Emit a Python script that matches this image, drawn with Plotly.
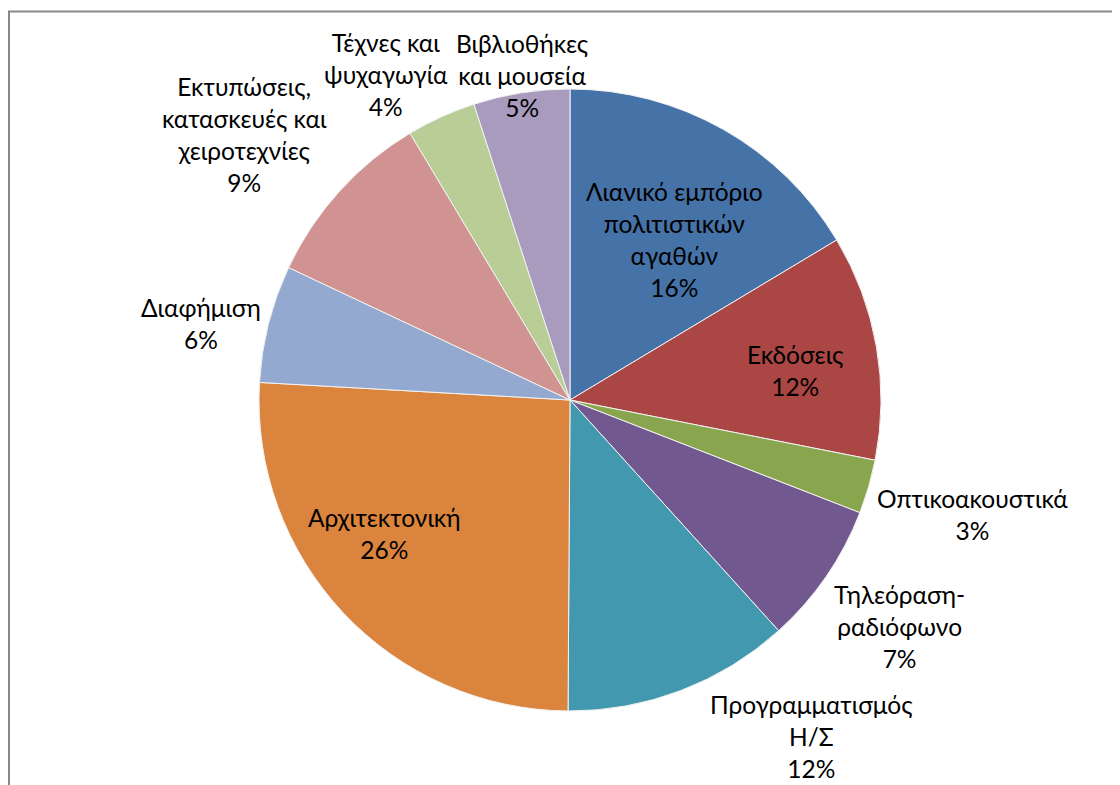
import math
import plotly.graph_objects as go

labels = [
    "Λιανικό εμπόριο<br>πολιτιστικών<br>αγαθών",
    "Εκδόσεις",
    "Οπτικοακουστικά",
    "Τηλεόραση-<br>ραδιόφωνο",
    "Προγραμματισμός<br>Η/Σ",
    "Αρχιτεκτονική",
    "Διαφήμιση",
    "Εκτυπώσεις,<br>κατασκευές και<br>χειροτεχνίες",
    "Τέχνες και<br>ψυχαγωγία",
    "Βιβλιοθήκες<br>και μουσεία",
]
values = [16.4, 11.7, 2.8, 7.4, 11.8, 25.8, 6.1, 9.4, 3.6, 5.0]
colors = ["#4572A7", "#AA4643", "#89A54E", "#71588F", "#4198AF",
          "#DB843D", "#93A9CF", "#D19392", "#B9CD96", "#A99BBD"]

# label placement style: radius factor along slice mid-angle + pixel nudges
label_r = [0.617, 0.729, 1.348, 1.285, 1.290, 0.731, 1.210, 1.351, 1.198, 1.056]
label_dx = [10, 2, 0, 0, 99, -20, -4, -14, -30, 3]
label_dy = [6, 9, -2, 0, -38, -22, 16, 16, 14, 0]

W, H = 1120, 785
CX, CY, R = 562, 392, 311

fig = go.Figure(go.Pie(
    labels=labels,
    values=values,
    sort=False,
    direction="clockwise",
    rotation=0,
    marker=dict(colors=colors, line=dict(color="#F2F2F2", width=1)),
    textinfo="none",
    showlegend=False,
    automargin=False,
    domain=dict(x=[(CX - R) / W, (CX + R) / W], y=[1 - (CY + R) / H, 1 - (CY - R) / H]),
    hoverinfo="label+percent",
))

total = sum(values)
annotations = []
cum = 0.0
for i, (lab, v) in enumerate(zip(labels, values)):
    mid = (cum + v / 2) / total * 2 * math.pi
    cum += v
    px = CX + label_r[i] * R * math.sin(mid) + label_dx[i]
    py = CY - label_r[i] * R * math.cos(mid) + label_dy[i]
    pct = round(v / total * 100)
    annotations.append(dict(
        x=px / W, y=1 - py / H, xref="paper", yref="paper",
        xanchor="center", yanchor="middle", showarrow=False,
        text=f"{lab}<br>{pct}%", align="center",
        font=dict(family="Lato", size=24.5, color="#000000"),
    ))

fig.update_layout(
    width=W, height=H,
    margin=dict(l=0, r=0, t=0, b=0, autoexpand=False),
    paper_bgcolor="white",
    plot_bgcolor="white",
    annotations=annotations,
    shapes=[dict(type="rect", xref="paper", yref="paper",
                 x0=1 / W, x1=1.05, y0=-0.05, y1=1 - 3.5 / H,
                 line=dict(color="#878787", width=2))],
)

fig.write_html("out.html")
